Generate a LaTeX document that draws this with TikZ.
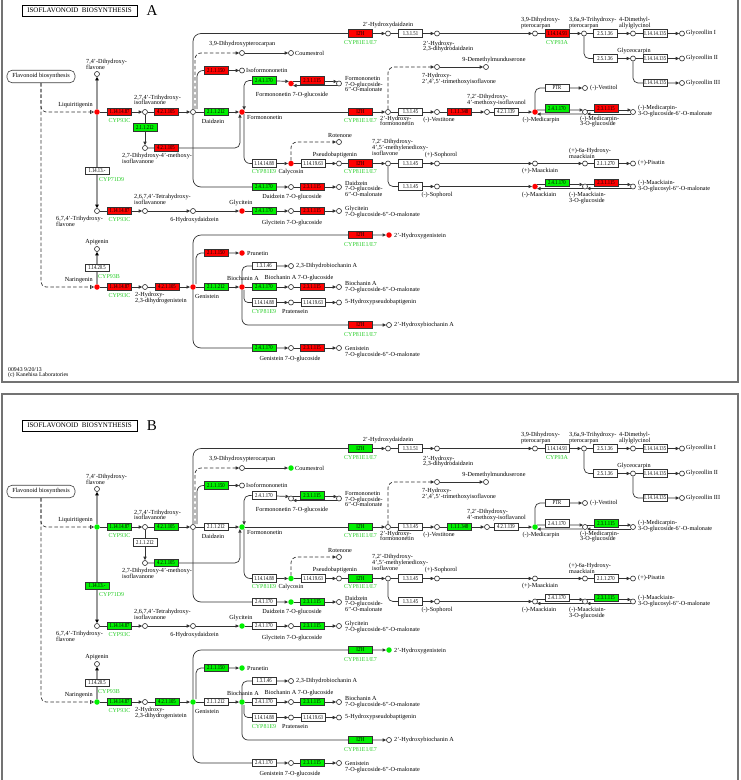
\documentclass[tikz,border=0pt]{standalone}
\usepackage{fontspec}
\setmainfont{Liberation Serif}
\newfontfamily\boxfont[FakeStretch=0.78]{Liberation Serif}
\usetikzlibrary{arrows.meta}
\pgfdeclarelayer{background}
\pgfsetlayers{background,main}
\definecolor{kred}{RGB}{255,0,0}
\definecolor{kgreen}{RGB}{0,240,0}
\definecolor{cypg}{RGB}{40,205,40}
\tikzset{
 >={Triangle[length=3.5pt,width=3.2pt]},
 ln/.style={draw=black!80, line width=0.7pt},
 gln/.style={draw=black!40, line width=1.4pt, -{Triangle[length=3.5pt,width=3.4pt,color=black]}},
 dsh/.style={ln, dash pattern=on 3.5pt off 2.2pt},
 frm/.style={draw=black!55, line width=1.2pt},
 enz/.style={draw=black!80, line width=0.6pt, fill=white, minimum width=24pt, minimum height=7.5pt, inner sep=0pt, font=\boxfont\fontsize{6}{6}\selectfont},
 cpd/.style={circle, draw=black!85, line width=0.6pt, fill=white, minimum size=5pt, inner sep=0pt},
 kdot/.style={circle, draw=none, minimum size=5.5pt, inner sep=0pt},
 lb/.style={font=\fontsize{6.2}{5.8}\selectfont, inner sep=0pt, align=left},
 cyp/.style={font=\fontsize{6}{6}\selectfont, inner sep=0pt, text=cypg},
 titlebox/.style={draw=black, line width=0.9pt, minimum width=115pt, minimum height=11pt, inner sep=0pt, font=\fontsize{7}{7}\selectfont},
 flavbox/.style={draw=black!75, line width=0.6pt, rounded corners=5pt, minimum width=68pt, minimum height=12.5pt, inner sep=0pt, font=\fontsize{6.2}{6.2}\selectfont},
 pA/.style={cR/.style={fill=kred}, cG/.style={fill=kgreen}, cX/.style={fill=white}, cY/.style={fill=kred},
   dR/.style={kdot,fill=kred}, dRW/.style={kdot,fill=kred}, dWG/.style={cpd}},
 pB/.style={cR/.style={fill=kgreen}, cG/.style={fill=white}, cX/.style={fill=kgreen}, cY/.style={fill=white},
   dR/.style={kdot,fill=kgreen}, dRW/.style={cpd}, dWG/.style={kdot,fill=kgreen}},
}
\newcommand\kpanel[2]{%
\draw[frm] (2,-21) rectangle (738,382);
\node[titlebox] (#1title) at (79.5,10.5) {ISOFLAVONOID\ \ BIOSYNTHESIS};
\node[font=\fontsize{15}{15}\selectfont, inner sep=0pt] (#1letter) at (152,10.5) {#2};
\node[flavbox] (#1flav) at (41,76.5) {Flavonoid biosynthesis};
% compounds
\node[dR] (#1liq) at (97,112) {};
\node[cpd] (#1dhf) at (97,74) {};
\node[cpd] (#1thf) at (97,211) {};
\node[cpd] (#1thi) at (145,112) {};
\node[cpd] (#1dmi) at (145,148) {};
\node[cpd] (#1daid) at (193,112) {};
\node[dR] (#1form) at (242,112) {};
\node[cpd] (#1dhp) at (242,53) {};
\node[dWG] (#1coum) at (291,53) {};
\node[cpd] (#1isof) at (242,70.5) {};
\node[cpd] (#1hdd) at (388,33.5) {};
\node[cpd] (#1hdhd) at (437,33.5) {};
\node[cpd] (#1dhpt) at (535,33.5) {};
\node[cpd] (#1tht) at (584,33.5) {};
\node[cpd] (#1dma) at (633,33.5) {};
\node[cpd] (#1gi) at (682,33.5) {};
\node[cpd] (#1gcarp) at (633,58.5) {};
\node[cpd] (#1gii) at (682,58.5) {};
\node[cpd] (#1giii) at (682,83) {};
\node[dRW] (#1fglc) at (291,83.5) {};
\node[cpd] (#1fmal) at (339,83.5) {};
\node[cpd] (#1hform) at (388,112) {};
\node[cpd] (#1thmi) at (437,67) {};
\node[cpd] (#1dmm) at (486,67) {};
\node[cpd] (#1vest) at (437,112) {};
\node[cpd] (#1isofl) at (487,112) {};
\node[dR] (#1med) at (535,112) {};
\node[cpd] (#1vestol) at (585,88) {};
\node[cpd] (#1medglc) at (585,112) {};
\node[cpd] (#1medmal) at (633,112) {};
\node[dR] (#1calyc) at (291,163.5) {};
\node[cpd] (#1rot) at (339,142) {};
\node[cpd] (#1pseudo) at (339,163.5) {};
\node[cpd] (#1dmi2) at (388,163.5) {};
\node[cpd] (#1psoph) at (437,163.5) {};
\node[cpd] (#1msoph) at (437,186.5) {};
\node[cpd] (#1pmaac) at (535,163.5) {};
\node[cpd] (#1hmaac) at (585,163.5) {};
\node[cpd] (#1pis) at (633,163.5) {};
\node[dRW] (#1mmaac) at (535,186.5) {};
\node[cpd] (#1mmglc) at (585,186.5) {};
\node[cpd] (#1mmmal) at (633,186.5) {};
\node[dWG] (#1dglc) at (291,187) {};
\node[cpd] (#1dmal) at (339,187) {};
\node[cpd] (#1ttf) at (145,211) {};
\node[cpd] (#1hdz) at (193,211) {};
\node[dR] (#1glyc) at (242,211) {};
\node[cpd] (#1gyglc) at (291,211) {};
\node[cpd] (#1gymal) at (339,211) {};
\node[cpd] (#1api) at (97,249) {};
\node[dR] (#1nar) at (97,287) {};
\node[cpd] (#1hdg) at (145,287) {};
\node[dR] (#1gen) at (193,287) {};
\node[dR] (#1bio) at (242,287) {};
\node[dR] (#1prun) at (242,253) {};
\node[dR] (#1hgen) at (389,235) {};
\node[cpd] (#1dhb) at (291,266) {};
\node[cpd] (#1bglc) at (291,287) {};
\node[cpd] (#1bmal) at (339,287) {};
\node[cpd] (#1prat) at (291,302.5) {};
\node[cpd] (#1hpb) at (339,302.5) {};
\node[cpd] (#1hbio) at (389,325) {};
\node[cpd] (#1genglc) at (291,348) {};
\node[cpd] (#1genmal) at (339,348) {};
% enzymes
\node[enz,cR] (#1e1) at (119.5,112) {1.14.14.87};
\node[enz,cR] (#1e2) at (166,112) {4.2.1.105};
\node[enz,cG] (#1e3) at (145,127.5) {2.1.1.212};
\node[enz,cR] (#1e4) at (166,148) {4.2.1.105};
\node[enz,cG] (#1e5) at (216,112) {2.1.1.212};
\node[enz,cX] (#1e6) at (97,171) {1.14.13.-};
\node[enz,cR] (#1e7) at (216,70.5) {2.1.1.150};
\node[enz,cR] (#1e8) at (360.5,33.5) {I2'H};
\node[enz] (#1e9) at (410.5,33.5) {1.3.1.51};
\node[enz,cY] (#1e10) at (557,33.5) {1.14.14.93};
\node[enz] (#1e11) at (605,33.5) {2.5.1.36};
\node[enz] (#1e12) at (655,33.5) {1.14.14.135};
\node[enz] (#1e13) at (605,58.5) {2.5.1.36};
\node[enz] (#1e14) at (655,58.5) {1.14.14.135};
\node[enz] (#1e15) at (655,83) {1.14.14.135};
\node[enz,cG] (#1e16) at (264,80.5) {2.4.1.170};
\node[enz,cR] (#1e17) at (312,80.5) {2.3.1.115};
\node[enz,cR] (#1e18) at (360.5,112) {I2'H};
\node[enz] (#1e19) at (410.5,112) {1.3.1.45};
\node[enz,cR] (#1e20) at (459.5,112) {1.1.1.348};
\node[enz] (#1e21) at (506,112) {4.2.1.139};
\node[enz] (#1e22) at (557,88) {PTR};
\node[enz,cG] (#1e23) at (557,108.5) {2.4.1.170};
\node[enz,cR] (#1e24) at (606,108.5) {2.3.1.115};
\node[enz] (#1e25) at (264,163.5) {1.14.14.88};
\node[enz] (#1e26) at (313,163.5) {1.14.19.63};
\node[enz,cR] (#1e27) at (360.5,163.5) {I2'H};
\node[enz] (#1e28) at (410.5,163.5) {1.3.1.45};
\node[enz] (#1e29) at (410.5,186.5) {1.3.1.45};
\node[enz] (#1e30) at (606,163.5) {2.1.1.270};
\node[enz,cG] (#1e31) at (557,183) {2.4.1.170};
\node[enz,cR] (#1e32) at (606,183) {2.3.1.115};
\node[enz,cG] (#1e33) at (264,187) {2.4.1.170};
\node[enz,cR] (#1e34) at (312,187) {2.3.1.115};
\node[enz,cR] (#1e35) at (119.5,211) {1.14.14.87};
\node[enz,cG] (#1e36) at (264,211) {2.4.1.170};
\node[enz,cR] (#1e37) at (312,211) {2.3.1.115};
\node[enz] (#1e38) at (97,268) {1.14.20.5};
\node[enz,cR] (#1e39) at (119.5,287) {1.14.14.87};
\node[enz,cR] (#1e40) at (167,287) {4.2.1.105};
\node[enz,cG] (#1e41) at (216,287) {2.1.1.212};
\node[enz,cR] (#1e42) at (216,253) {2.1.1.150};
\node[enz,cR] (#1e43) at (360.5,235) {I2'H};
\node[enz] (#1e44) at (264,266) {1.3.1.46};
\node[enz,cG] (#1e45) at (264,287) {2.4.1.170};
\node[enz,cR] (#1e46) at (312,287) {2.3.1.115};
\node[enz] (#1e47) at (264,302.5) {1.14.14.88};
\node[enz] (#1e48) at (313,302.5) {1.14.19.63};
\node[enz,cR] (#1e49) at (360.5,325) {I2'H};
\node[enz,cG] (#1e50) at (264,348) {2.4.1.170};
\node[enz,cR] (#1e51) at (312,348) {2.3.1.115};
% gene labels
\node[cyp] (#1c1) at (119.5,121) {CYP93C};
\node[cyp,anchor=west] (#1c2) at (99,180) {CYP71D9};
\node[cyp] (#1c3) at (360.5,43) {CYP81E1/E7};
\node[cyp] (#1c4) at (557,43) {CYP93A};
\node[cyp] (#1c5) at (360.5,121) {CYP81E1/E7};
\node[cyp] (#1c6) at (264,172) {CYP81E9};
\node[cyp] (#1c7) at (360.5,172) {CYP81E1/E7};
\node[cyp] (#1c8) at (119.5,220) {CYP93C};
\node[cyp,anchor=west] (#1c9) at (98,277) {CYP93B};
\node[cyp] (#1c10) at (119.5,296) {CYP93C};
\node[cyp] (#1c11) at (360.5,245) {CYP81E1/E7};
\node[cyp] (#1c12) at (264,312) {CYP81E9};
\node[cyp] (#1c13) at (360.5,335) {CYP81E1/E7};
% compound labels
\node[lb,anchor=north west] (#1t1) at (86,59) {7,4'-Dihydroxy-\\flavone};
\node[lb,anchor=east] (#1t2) at (93,105) {Liquiritigenin};
\node[lb,anchor=north west] (#1t3) at (134,94.5) {2,7,4'-Trihydroxy-\\isoflavanone};
\node[lb,anchor=north west] (#1t4) at (122,153) {2,7-Dihydroxy-4'-methoxy-\\isoflavanone};
\node[lb] (#1t5) at (213,121) {Daidzein};
\node[lb,anchor=west] (#1t6) at (209,44) {3,9-Dihydroxypterocarpan};
\node[lb,anchor=west] (#1t7) at (246,70.5) {Isoformononetin};
\node[lb,anchor=west] (#1t8) at (295,53.5) {Coumestrol};
\node[lb] (#1t9) at (388,25.5) {2'-Hydroxydaidzein};
\node[lb,anchor=north west] (#1t10) at (423,40.5) {2'-Hydroxy-\\2,3-dihydrodaidzein};
\node[lb,anchor=north west] (#1t11) at (521,17) {3,9-Dihydroxy-\\pterocarpan};
\node[lb,anchor=north west] (#1t12) at (569,17) {3,6a,9-Trihydroxy-\\pterocarpan};
\node[lb,anchor=north west] (#1t13) at (619,17) {4-Dimethyl-\\allylglycinol};
\node[lb,anchor=west] (#1t14) at (686,33.5) {Glyceollin I};
\node[lb] (#1t15) at (634,51) {Glyceocarpin};
\node[lb,anchor=west] (#1t16) at (686,58.5) {Glyceollin II};
\node[lb,anchor=west] (#1t17) at (686,83) {Glyceollin III};
\node[lb] (#1t18) at (292,95) {Formononetin 7-O-glucoside};
\node[lb,anchor=north west] (#1t19) at (345,76) {Formononetin\\7-O-glucoside-\\6''-O-malonate};
\node[lb,anchor=west] (#1t20) at (247,117.5) {Formononetin};
\node[lb] (#1t21) at (494,60.5) {9-Demethylmunduserone};
\node[lb,anchor=north west] (#1t22) at (422,73) {7-Hydroxy-\\2',4',5'-trimethoxyisoflavone};
\node[lb,anchor=north west] (#1t23) at (380,115.5) {2'-Hydroxy-\\formononetin};
\node[lb] (#1t24) at (439,120.5) {(-)-Vestitone};
\node[lb,anchor=north west] (#1t25) at (467,94) {7,2'-Dihydroxy-\\4'-methoxy-isoflavanol};
\node[lb] (#1t26) at (541,120.5) {(-)-Medicarpin};
\node[lb,anchor=west] (#1t27) at (590,88) {(-)-Vestitol};
\node[lb,anchor=north west] (#1t28) at (580,115.5) {(-)-Medicarpin-\\3-O-glucoside};
\node[lb,anchor=north west] (#1t29) at (638,105) {(-)-Medicarpin-\\3-O-glucoside-6'-O-malonate};
\node[lb] (#1t30) at (340,135.5) {Rotenone};
\node[lb] (#1t31) at (335,155.5) {Pseudobaptigenin};
\node[lb] (#1t32) at (291,172) {Calycosin};
\node[lb,anchor=north west] (#1t33) at (372,139) {7,2'-Dihydroxy-\\4',5'-methylenedioxy-\\isoflavone};
\node[lb] (#1t34) at (441,155) {(+)-Sophorol};
\node[lb] (#1t35) at (437,195) {(-)-Sophorol};
\node[lb] (#1t36) at (540,171) {(+)-Maackiain};
\node[lb,anchor=north west] (#1t37) at (569,148) {(+)-6a-Hydroxy-\\maackiain};
\node[lb,anchor=west] (#1t38) at (638,163.5) {(+)-Pisatin};
\node[lb] (#1t39) at (539,195) {(-)-Maackiain};
\node[lb,anchor=north west] (#1t40) at (569,192) {(-)-Maackiain-\\3-O-glucoside};
\node[lb,anchor=north west] (#1t41) at (638,180) {(-)-Maackiain-\\3-O-glucosyl-6''-O-malonate};
\node[lb] (#1t42) at (292,197) {Daidzein 7-O-glucoside};
\node[lb,anchor=north west] (#1t43) at (345,180.5) {Daidzein\\7-O-glucoside-\\6''-O-malonate};
\node[lb,anchor=north west] (#1t44) at (134,194) {2,6,7,4'-Tetrahydroxy-\\isoflavanone};
\node[lb,anchor=north west] (#1t45) at (56,216) {6,7,4'-Trihydroxy-\\flavone};
\node[lb] (#1t46) at (194.5,220) {6-Hydroxydaidzein};
\node[lb] (#1t47) at (241,203) {Glycitein};
\node[lb] (#1t48) at (292,223) {Glycitein 7-O-glucoside};
\node[lb,anchor=north west] (#1t49) at (345,206) {Glycitein\\7-O-glucoside-6''-O-malonate};
\node[lb] (#1t50) at (97,242) {Apigenin};
\node[lb,anchor=east] (#1t51) at (93,280.5) {Naringenin};
\node[lb,anchor=north west] (#1t52) at (135,292) {2-Hydroxy-\\2,3-dihydrogenistein};
\node[lb] (#1t53) at (207,296) {Genistein};
\node[lb] (#1t54) at (243,278.5) {Biochanin A};
\node[lb,anchor=west] (#1t55) at (247,253) {Prunetin};
\node[lb,anchor=west] (#1t56) at (394,236) {2'-Hydroxygenistein};
\node[lb,anchor=west] (#1t57) at (296,266) {2,3-Dihydrobiochanin A};
\node[lb] (#1t58) at (299,278.5) {Biochanin A 7-O-glucoside};
\node[lb,anchor=north west] (#1t59) at (345,281) {Biochanin A\\7-O-glucoside-6''-O-malonate};
\node[lb] (#1t60) at (295,311) {Pratensein};
\node[lb,anchor=west] (#1t61) at (345,302.5) {5-Hydroxypseudobaptigenin};
\node[lb,anchor=west] (#1t62) at (394,325.5) {2'-Hydroxybiochanin A};
\node[lb] (#1t63) at (290,359) {Genistein 7-O-glucoside};
\node[lb,anchor=north west] (#1t64) at (345,346) {Genistein\\7-O-glucoside-6''-O-malonate};
% connectors
\begin{pgfonlayer}{background}
\draw[dsh,-{Triangle[open,length=4pt,width=4pt]},rounded corners=5pt] (#1flav) |- (#1liq);
\draw[dsh,-{Triangle[open,length=4pt,width=4pt]},rounded corners=5pt] (#1flav) |- (#1nar);
\draw[gln] (#1liq) -- (#1dhf);
\draw[gln] (#1liq) -- (#1thf);
\draw[gln] (#1nar) -- (#1api);
\draw[ln,->] (#1liq) -- (#1thi);
\draw[ln,->] (#1thi) -- (#1daid);
\draw[ln,->] (#1thi) -- (#1dmi);
\draw[ln,->,rounded corners=5pt] (#1dmi) -| (#1form.south west);
\draw[ln,->] (#1daid) -- (#1form);
\draw[ln,->,rounded corners=8pt] (#1daid.north) |- (#1hdd);
\draw[dsh,->,rounded corners=6pt] ([xshift=2pt]#1daid.north) |- (#1dhp);
\draw[ln,->,rounded corners=6pt] ([xshift=4pt]#1daid.north) |- (#1isof);
\draw[ln,->] (#1dhp) -- (#1coum);
\draw[ln,->,rounded corners=8pt] (#1daid.south) |- (#1dglc);
\draw[ln,->] (#1dglc) -- (#1dmal);
\draw[ln,->] (#1hdd) -- (#1hdhd);
\draw[ln,->] (#1hdhd) -- (#1dhpt);
\draw[ln,->] (#1dhpt) -- (#1tht);
\draw[ln,->] (#1tht) -- (#1dma);
\draw[ln,->] (#1dma) -- (#1gi);
\draw[ln,->,rounded corners=5pt] (#1tht) |- (#1gcarp);
\draw[ln,->] (#1gcarp) -- (#1gii);
\draw[ln,->,rounded corners=5pt] (#1gcarp) |- (#1giii);
\draw[ln,->,rounded corners=5pt] (#1e16) -| (#1form.north east);
\draw[ln,->] (#1e16) -- (#1fglc.north west);
\draw[ln,->] (#1fglc.north east) -- (#1fmal.north west);
\draw[ln,->] (#1fmal.south west) -- (#1fglc.south east);
\draw[ln,->] (#1form) -- (#1hform);
\draw[dsh,->,rounded corners=6pt] (#1hform) |- (#1thmi);
\draw[ln,->] (#1thmi) -- (#1dmm);
\draw[ln,->] (#1hform) -- (#1vest);
\draw[ln,->] (#1vest) -- (#1isofl);
\draw[ln,->] (#1isofl) -- (#1med);
\draw[ln,->,rounded corners=5pt] (#1med) |- (#1vestol);
\draw[ln,->] (#1med.north east) -- (#1medglc.north west);
\draw[ln,->] (#1medglc.north east) -- (#1medmal.north west);
\draw[ln,->] (#1medglc.south west) -- (#1med.south east);
\draw[ln,->] (#1medmal.south west) -- (#1medglc.south east);
\draw[ln,->,rounded corners=6pt] (#1form.south east) |- (#1calyc);
\draw[ln,->] (#1calyc) -- (#1pseudo);
\draw[dsh,->,rounded corners=6pt] (#1calyc) |- (#1rot);
\draw[ln,->] (#1pseudo) -- (#1dmi2);
\draw[ln,->] (#1dmi2) -- (#1psoph);
\draw[ln,->,rounded corners=5pt] (#1dmi2) |- (#1msoph);
\draw[ln,->] (#1psoph) -- (#1pmaac);
\draw[ln,->] (#1pmaac) -- (#1hmaac);
\draw[ln,->] (#1hmaac) -- (#1pis);
\draw[ln,->] (#1msoph) -- (#1mmaac);
\draw[ln,->] (#1mmaac.north east) -- (#1mmglc.north west);
\draw[ln,->] (#1mmglc.north east) -- (#1mmmal.north west);
\draw[ln,->] (#1mmglc.south west) -- (#1mmaac.south east);
\draw[ln,->] (#1mmmal.south west) -- (#1mmglc.south east);
\draw[ln,->] (#1thf) -- (#1ttf);
\draw[ln,->] (#1ttf) -- (#1hdz);
\draw[ln,->] (#1hdz) -- (#1glyc);
\draw[ln,->] (#1glyc) -- (#1gyglc);
\draw[ln,->] (#1gyglc) -- (#1gymal);
\draw[ln,->] (#1nar) -- (#1hdg);
\draw[ln,->] (#1hdg) -- (#1gen);
\draw[ln,->] (#1gen) -- (#1bio);
\draw[ln,->,rounded corners=5pt] ([xshift=3pt]#1gen.north) |- (#1prun);
\draw[ln,->,rounded corners=8pt] (#1gen.north) |- (#1hgen);
\draw[ln,->,rounded corners=8pt] (#1gen.south) |- (#1genglc);
\draw[ln,->] (#1genglc) -- (#1genmal);
\draw[ln,->,rounded corners=5pt] (#1bio.north) |- (#1dhb);
\draw[ln,->] (#1bio) -- (#1bglc);
\draw[ln,->] (#1bglc) -- (#1bmal);
\draw[ln,->,rounded corners=4pt] ([xshift=2pt]#1bio.south) |- (#1prat);
\draw[ln,->] (#1prat) -- (#1hpb);
\draw[ln,->,rounded corners=6pt] (#1bio.south) |- (#1hbio);
\end{pgfonlayer}
}
\begin{document}
\begin{tikzpicture}[x=1pt,y=-1pt]
\useasboundingbox (0,0) rectangle (740,780);
\clip (0,0) rectangle (740,780);
\begin{scope}[pA]
\kpanel{A}{A}
\node[lb,anchor=north west,font=\fontsize{5.8}{5.8}\selectfont] (Afoot) at (8,367) {00943 9/20/13\\(c) Kanehisa Laboratories};
\end{scope}
\begin{scope}[yshift=-415pt,pB]
\kpanel{B}{B}
\end{scope}
\end{tikzpicture}
\end{document}
